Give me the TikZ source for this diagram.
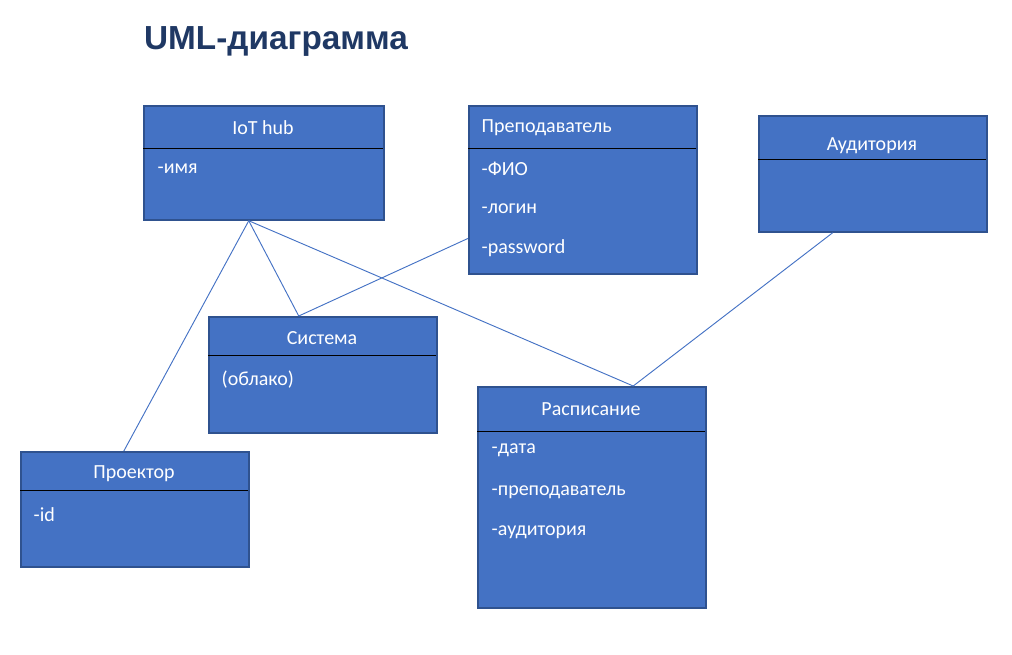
\documentclass[tikz,border=0pt]{standalone}
\usepackage{fontspec}
\setmainfont{Carlito}
\newfontfamily\titlefont{Liberation Sans}
\usetikzlibrary{calc}

\definecolor{boxfill}{HTML}{4472C4}
\definecolor{boxedge}{HTML}{2F528F}
\definecolor{titleblue}{HTML}{1F3864}

\tikzset{
  umlbox/.style={draw=boxedge,fill=boxfill,line width=1.3pt,anchor=north west,inner sep=0pt},
  divider/.style={black,line width=0.6pt},
  boxtitle/.style={text=white,font=\fontsize{15}{17}\selectfont},
  attr/.style={text=white,font=\fontsize{15}{17}\selectfont,anchor=west},
  link/.style={boxfill,line width=0.7pt}
}

\begin{document}
\begin{tikzpicture}[x=0.75pt,y=-0.75pt]
    \useasboundingbox (0,0) rectangle (1012,654);
    % title
    \node[titleblue,font=\titlefont\bfseries\fontsize{25}{29}\selectfont] (title) at (276,41) {UML-диаграмма};
    % IoT hub
    \node[umlbox,minimum width=180pt,minimum height=85.5pt] (hub) at (143,105) {};
    \draw[divider] (143,148) -- (383,148);
    \node[boxtitle] (hubname) at (263,128) {IoT hub};
    \node[attr] (hubname1) at (153,169) {-имя};
    % Преподаватель
    \node[umlbox,minimum width=171pt,minimum height=126pt] (teacher) at (468,105) {};
    \draw[divider] (468,148) -- (696,148);
    \node[boxtitle,anchor=west] (teachername) at (477,128) {Преподаватель};
    \node[attr] (teacher1) at (477,169) {-ФИО};
    \node[attr] (teacher2) at (477,209) {-логин};
    \node[attr] (teacher3) at (477,248) {-password};
    % Аудитория
    \node[umlbox,minimum width=171pt,minimum height=87pt] (room) at (758,115) {};
    \draw[divider] (758,159) -- (986,159);
    \node[boxtitle] (roomname) at (872,146) {Аудитория};
    % Система
    \node[umlbox,minimum width=171pt,minimum height=87pt] (sys) at (208,316) {};
    \draw[divider] (208,355) -- (436,355);
    \node[boxtitle] (sysname) at (322,338) {Система};
    \node[attr] (sys1) at (217,380) {(облако)};
    % Проектор
    \node[umlbox,minimum width=171pt,minimum height=86.25pt] (proj) at (20,451) {};
    \draw[divider] (20,490) -- (248,490);
    \node[boxtitle] (projname) at (134,474) {Проектор};
    \node[attr] (proj1) at (29,515) {-id};
    % Расписание
    \node[umlbox,minimum width=171pt,minimum height=165.75pt] (sched) at (477,386) {};
    \draw[divider] (477,431) -- (705,431);
    \node[boxtitle] (schedname) at (591,409) {Расписание};
    \node[attr] (sched1) at (487,450) {-дата};
    \node[attr] (sched2) at (487,492) {-преподаватель};
    \node[attr] (sched3) at (487,532) {-аудитория};
    % links
    \draw[link] ($(hub.south west)!0.4375!(hub.south east)$) -- ($(proj.north west)!0.452!(proj.north east)$);
    \draw[link] ($(hub.south west)!0.4375!(hub.south east)$) -- ($(sys.north west)!0.395!(sys.north east)$);
    \draw[link] ($(hub.south west)!0.4375!(hub.south east)$) -- ($(sched.north west)!0.68!(sched.north east)$);
    \draw[link] ($(teacher.north west)!0.786!(teacher.south west)$) -- ($(sys.north west)!0.395!(sys.north east)$);
    \draw[link] ($(room.south west)!0.325!(room.south east)$) -- ($(sched.north west)!0.68!(sched.north east)$);
\end{tikzpicture}
\end{document}
